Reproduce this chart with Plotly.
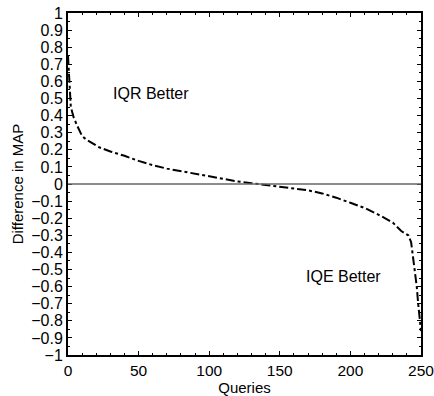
import plotly.graph_objects as go

queries = [0, 1, 2, 3, 4, 6, 8, 10, 13, 17, 22, 30, 40, 50, 60, 70, 80, 90, 100,
           110, 120, 130, 140, 150, 160, 170, 180, 190, 200, 210, 220, 230, 236,
           241, 243, 245, 246, 247, 248, 249, 250]
diff_map = [0.75, 0.55, 0.45, 0.42, 0.39, 0.35, 0.31, 0.28, 0.26, 0.24, 0.215, 0.19,
            0.165, 0.135, 0.11, 0.09, 0.075, 0.06, 0.045, 0.03, 0.015, 0.005, -0.005,
            -0.015, -0.025, -0.037, -0.055, -0.08, -0.11, -0.14, -0.18, -0.225, -0.275,
            -0.3, -0.34, -0.46, -0.52, -0.6, -0.7, -0.8, -0.86]

yticks = [round(-1 + 0.1 * i, 1) for i in range(21)]
ytext = [("\u2212" + f"{abs(v):g}") if v < 0 else f"{v:g}" for v in yticks]

fig = go.Figure()
fig.add_trace(go.Scatter(x=queries, y=diff_map, mode="lines",
                         line=dict(color="black", width=2, dash="dashdot"),
                         showlegend=False))

fig.add_hline(y=0, line=dict(color="#666666", width=1.5))

font = dict(family="Liberation Sans, Arial, sans-serif", size=15, color="black")
xtfont = dict(family="Liberation Sans, Arial, sans-serif", size=15.5, color="black")
ytfont = dict(family="Liberation Sans, Arial, sans-serif", size=16, color="black")
afont = dict(family="Liberation Sans, Arial, sans-serif", size=16, color="black")
fig.update_layout(
    width=434, height=396,
    margin=dict(l=68, r=13, t=13, b=41),
    plot_bgcolor="white", paper_bgcolor="white",
    font=font,
    xaxis=dict(range=[0, 250], tickvals=[0, 50, 100, 150, 200, 250],
               ticks="inside", ticklen=4, tickcolor="black", mirror="ticks",
               showline=True, linecolor="black", linewidth=2, showgrid=False,
               zeroline=False, automargin=False, ticklabeloverflow="allow",
               minor=dict(dtick=10, ticks="inside", ticklen=2, tickcolor="black"),
               title=dict(text="Queries", standoff=2, font=font), tickfont=xtfont),
    yaxis=dict(range=[-1, 1], tickvals=yticks, ticktext=ytext,
               ticks="inside", ticklen=4, tickcolor="black", mirror="ticks",
               showline=True, linecolor="black", linewidth=2, showgrid=False,
               zeroline=False, automargin=False, ticklabeloverflow="allow",
               minor=dict(dtick=0.05, ticks="inside", ticklen=2, tickcolor="black"),
               title=dict(text="Difference in MAP", standoff=4, font=font), tickfont=ytfont),
    annotations=[
        dict(x=58.7, y=0.527, text="IQR Better", showarrow=False, font=afont),
        dict(x=195, y=-0.54, text="IQE Better", showarrow=False, font=afont),
    ],
)
fig.write_html("out.html")
